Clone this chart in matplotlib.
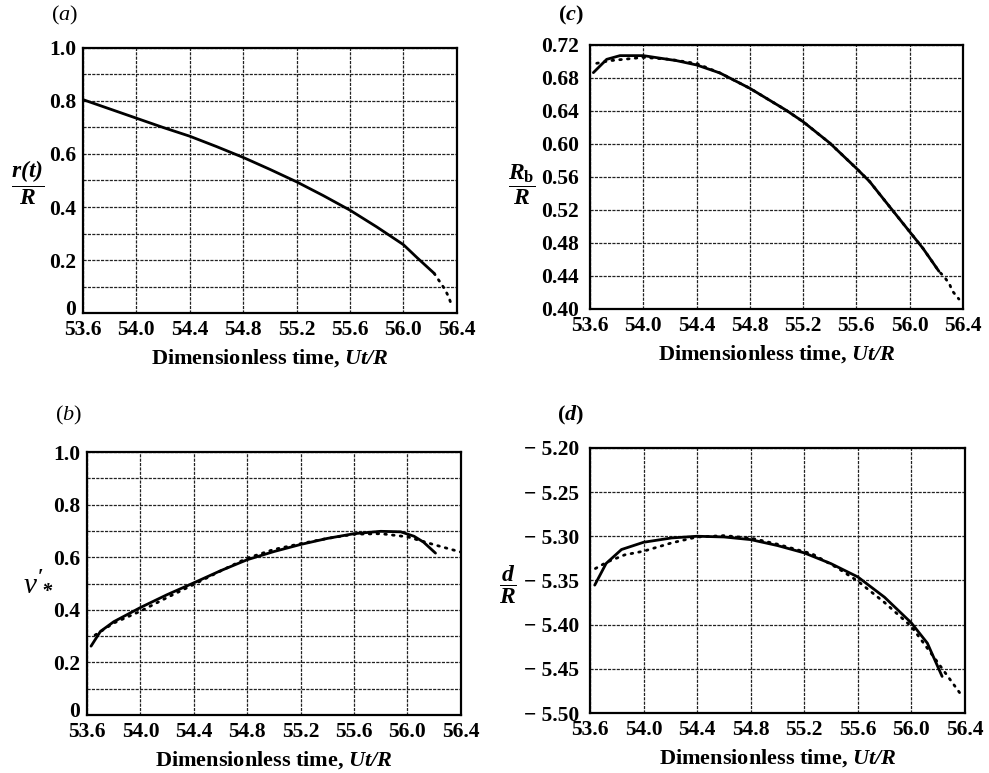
import matplotlib as mpl
import matplotlib.pyplot as plt
from matplotlib.transforms import ScaledTranslation

mpl.rcParams['font.family'] = 'Liberation Serif'
mpl.rcParams['mathtext.fontset'] = 'custom'
mpl.rcParams['mathtext.rm'] = 'Liberation Serif:bold'
mpl.rcParams['mathtext.it'] = 'Liberation Serif:italic'
mpl.rcParams['mathtext.bf'] = 'Liberation Serif:bold:italic'
mpl.rcParams['axes.unicode_minus'] = True

# (a) drop radius r(t)/R
ta_solid = [53.6, 53.8, 54.0, 54.2, 54.4, 54.6, 54.8, 55.0, 55.2, 55.4, 55.6, 55.8, 56.0, 56.1, 56.23]
ra_solid = [0.805, 0.77, 0.735, 0.70, 0.667, 0.628, 0.587, 0.542, 0.495, 0.443, 0.388, 0.325, 0.258, 0.21, 0.15]
ta_dot = [56.23, 56.27, 56.31, 56.34, 56.36]
ra_dot = [0.15, 0.12, 0.09, 0.06, 0.03]

# (b) v'_*
tb_solid = [53.63, 53.7, 53.8, 54.0, 54.2, 54.4, 54.6, 54.8, 55.0, 55.2, 55.4, 55.6, 55.8, 55.95,
            56.05, 56.12, 56.21]
vb_solid = [0.262, 0.318, 0.355, 0.409, 0.458, 0.503, 0.549, 0.591, 0.622, 0.649, 0.672, 0.69, 0.699,
            0.697, 0.68, 0.658, 0.616]
tb_dot = [53.66, 53.8, 54.0, 54.2, 54.4, 54.6, 54.8, 55.0, 55.2, 55.4, 55.6, 55.8, 56.0, 56.2, 56.4]
vb_dot = [0.304, 0.35, 0.395, 0.447, 0.497, 0.548, 0.597, 0.630, 0.652, 0.672, 0.688, 0.690, 0.678,
          0.648, 0.62]

# (c) R_b / R
tc_solid = [53.625, 53.725, 53.825, 54.0, 54.25, 54.4, 54.575, 54.8, 55.07, 55.2, 55.4, 55.6, 55.7,
            55.82, 56.0, 56.1, 56.22]
rc_solid = [0.6865, 0.7026, 0.7071, 0.7071, 0.701, 0.6958, 0.6861, 0.6675, 0.6412, 0.627, 0.6012,
            0.5705, 0.5544, 0.530, 0.4937, 0.4735, 0.4457]
tc_dot = [53.65, 53.75, 53.875, 54.0, 54.2, 54.4, 54.575, 54.8, 55.07, 55.2, 55.4, 55.6, 55.7, 55.82,
          56.0, 56.1, 56.22, 56.26, 56.3, 56.32, 56.37]
rc_dot = [0.6978, 0.701, 0.703, 0.705, 0.7026, 0.6975, 0.6861, 0.6675, 0.6412, 0.627, 0.6012, 0.5705,
          0.5544, 0.530, 0.4937, 0.4735, 0.4457, 0.439, 0.430, 0.422, 0.412]

# (d) d / R
td_solid = [53.635, 53.72, 53.835, 54.0, 54.21, 54.4, 54.6, 54.8, 55.0, 55.2, 55.4, 55.6, 55.8, 56.0,
            56.12, 56.23]
dd_solid = [-5.3553, -5.3308, -5.3150, -5.3068, -5.3019, -5.300, -5.3008, -5.3038, -5.3105, -5.3188,
            -5.331, -5.346, -5.369, -5.398, -5.421, -5.4586]
td_dot = [53.64, 53.73, 53.86, 54.0, 54.21, 54.4, 54.6, 54.8, 55.0, 55.26, 55.45, 55.6, 55.8, 56.0,
          56.16, 56.38]
dd_dot = [-5.3365, -5.329, -5.321, -5.3169, -5.3075, -5.3008, -5.2993, -5.302, -5.309, -5.320, -5.336,
          -5.3508, -5.375, -5.402, -5.435, -5.481]

xticks = [53.6, 54.0, 54.4, 54.8, 55.2, 55.6, 56.0, 56.4]

fig = plt.figure(figsize=(9.89, 7.73), dpi=100)
axa = fig.add_axes([0.0839, 0.595, 0.378, 0.343])
axc = fig.add_axes([0.5966, 0.6003, 0.377, 0.3415])
axb = fig.add_axes([0.088, 0.075, 0.378, 0.340])
axd = fig.add_axes([0.5966, 0.0776, 0.379, 0.343])

grid_kw = dict(color='#222222', linestyle=(0, (2.5, 1)), linewidth=0.9)


def style(ax, ymajor, yminor, ylim, labels, ypad):
    ax.set_xlim(53.6, 56.4)
    ax.set_ylim(*ylim)
    ax.set_xticks(xticks)
    ax.set_xticklabels(['%.1f' % x for x in xticks], fontweight='bold')
    ax.set_yticks(ymajor)
    ax.set_yticklabels(labels, fontweight='bold')
    if yminor is not None:
        ax.set_yticks(yminor, minor=True)
    ax.tick_params(which='both', length=0, labelsize=15.5)
    ax.tick_params(axis='x', pad=5)
    ax.tick_params(axis='y', pad=ypad)
    ax.grid(True, which='both', **grid_kw)
    ax.set_axisbelow(True)
    for s in ax.spines.values():
        s.set_linewidth(1.6)
    ax.set_xlabel(r'Dimensionless time, $\mathbf{Ut/R}$', fontsize=16, fontweight='bold', labelpad=5)


def draw(ax, ts, ys, td, yd):
    ax.plot(ts, ys, color='black', lw=2.0, solid_capstyle='round', solid_joinstyle='round')
    ax.plot(td, yd, color='black', lw=2.0, linestyle=(0, (0.6, 2.2)), dash_capstyle='round')


def raise_zero(ax):
    # the "0" label sits a little above the corner
    lab = ax.get_yticklabels()[0]
    lab.set_transform(lab.get_transform() + ScaledTranslation(0, 4 / 72, fig.dpi_scale_trans))


# (a)
draw(axa, ta_solid, ra_solid, ta_dot, ra_dot)
style(axa, [0, 0.2, 0.4, 0.6, 0.8, 1.0], [0.1, 0.3, 0.5, 0.7, 0.9], (0, 1.0),
      ['0', '0.2', '0.4', '0.6', '0.8', '1.0'], 5)
raise_zero(axa)
axa.set_ylabel(r'$\dfrac{\mathbf{r(t)}}{\mathbf{R}}$', rotation=0, fontsize=17, va='center', ha='center')
axa.yaxis.set_label_coords(-0.147, 0.49)

# (b)
draw(axb, tb_solid, vb_solid, tb_dot, vb_dot)
style(axb, [0, 0.2, 0.4, 0.6, 0.8, 1.0], [0.1, 0.3, 0.5, 0.7, 0.9], (0, 1.0),
      ['0', '0.2', '0.4', '0.6', '0.8', '1.0'], 5)
raise_zero(axb)
axb.set_ylabel(r"$\mathit{v}'_{\!\mathbf{*}}$", rotation=0, fontsize=21, va='center', ha='center')
axb.yaxis.set_label_coords(-0.131, 0.50)

# (c)
cy = [0.40, 0.44, 0.48, 0.52, 0.56, 0.60, 0.64, 0.68, 0.72]
draw(axc, tc_solid, rc_solid, tc_dot, rc_dot)
style(axc, cy, None, (0.40, 0.72), ['%.2f' % v for v in cy], 8)
axc.set_ylabel(r'$\dfrac{\mathbf{R}_{\mathrm{b}}}{\mathbf{R}}$', rotation=0, fontsize=17, va='center', ha='center')
axc.yaxis.set_label_coords(-0.182, 0.47)

# (d)
dy = [-5.50, -5.45, -5.40, -5.35, -5.30, -5.25, -5.20]
draw(axd, td_solid, dd_solid, td_dot, dd_dot)
style(axd, dy, None, (-5.50, -5.20), ['\u2212 %.2f' % abs(v) for v in dy], 8)
axd.set_ylabel(r'$\dfrac{\mathbf{d}}{\mathbf{R}}$', rotation=0, fontsize=17, va='center', ha='center')
axd.yaxis.set_label_coords(-0.219, 0.483)

# panel letters
fig.text(0.052, 0.980, r'($\mathit{a}$)', fontsize=16, va='center')
fig.text(0.564, 0.980, r'($\mathbf{c}$)', fontsize=16, fontweight='bold', va='center')
fig.text(0.056, 0.463, r'($\mathit{b}$)', fontsize=16, va='center')
fig.text(0.563, 0.463, r'($\mathbf{d}$)', fontsize=16, fontweight='bold', va='center')

fig.savefig('out.png', dpi=100)
